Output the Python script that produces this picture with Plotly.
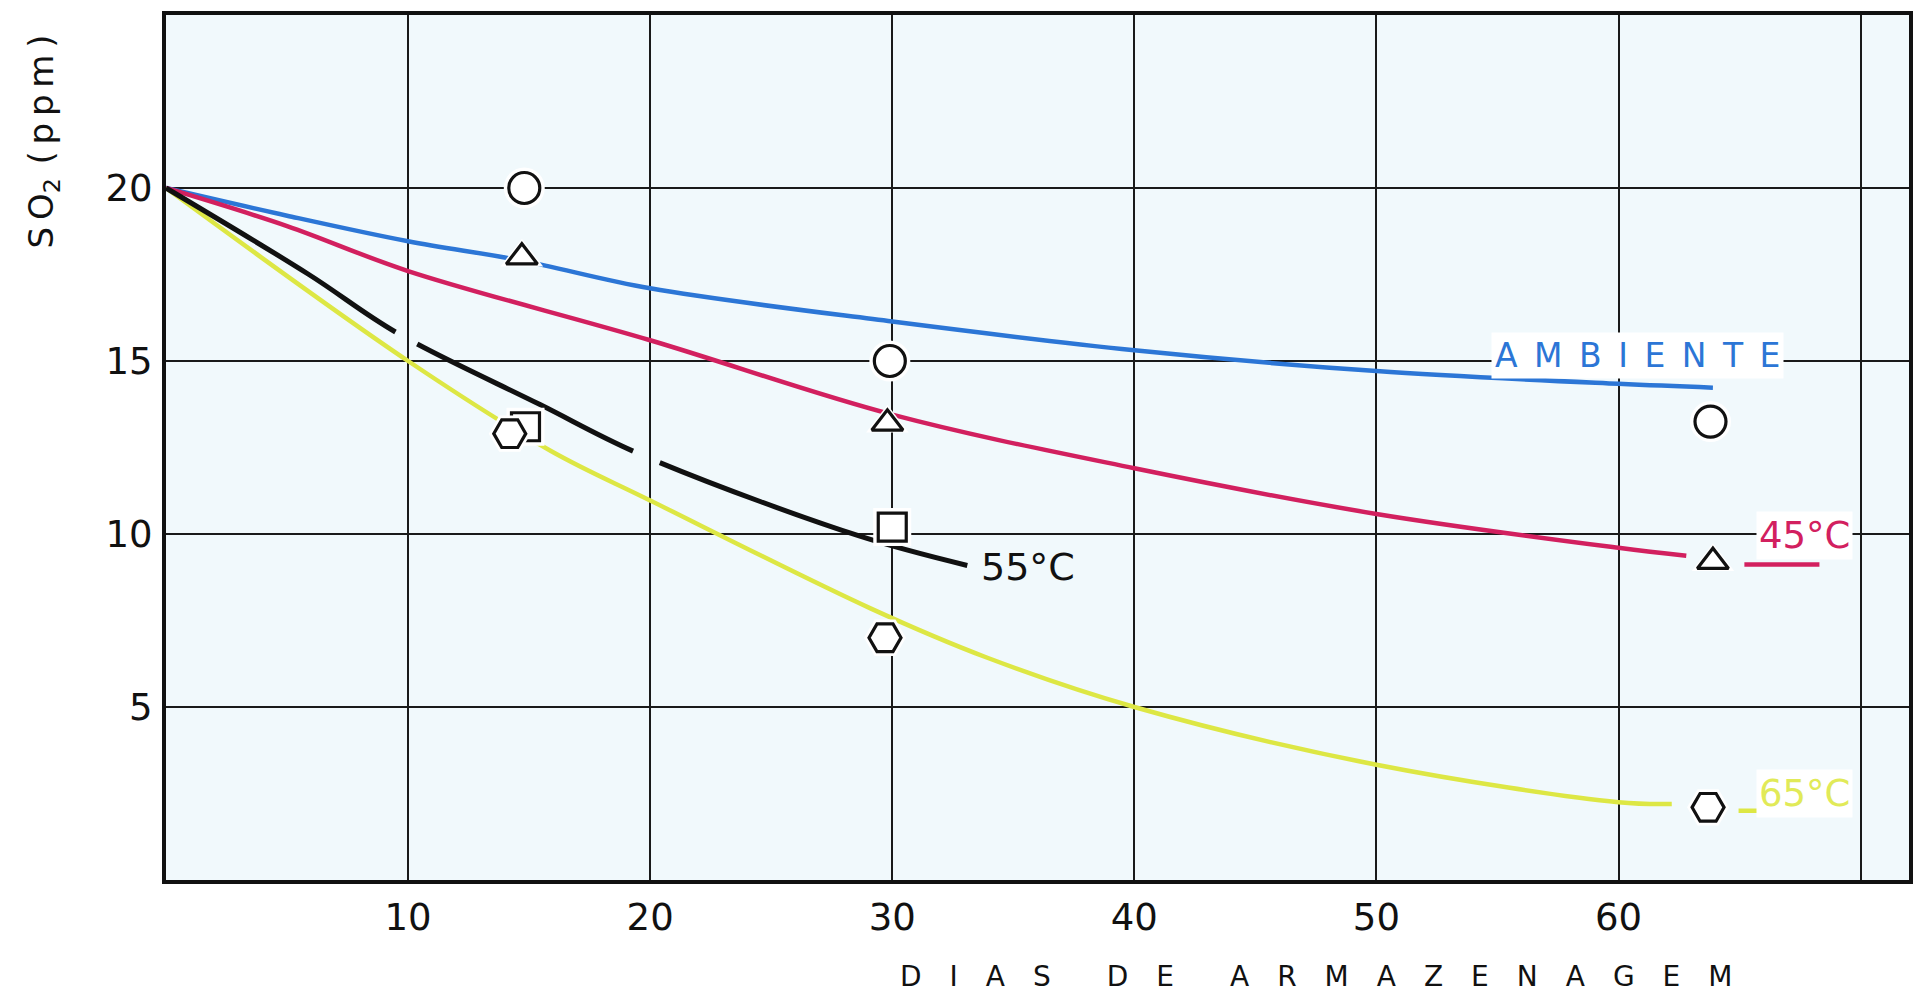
import plotly.graph_objects as go

# ---------------- data ----------------
days_amb = [0, 5, 10, 14.7, 20, 30, 40, 50, 60, 63.9]
so2_amb = [20, 19.2, 18.46, 17.9, 17.1, 16.14, 15.31, 14.71, 14.34, 14.23]

days_45 = [0, 5, 10, 20, 30, 40, 50, 60, 62.8]
so2_45 = [20, 18.9, 17.6, 15.6, 13.45, 11.9, 10.58, 9.6, 9.37]
days_45_key = [65.2, 68.3]
so2_45_key = [9.12, 9.12]

days_55 = [0, 5.9, 9.5, 15.45, 19.6, 28.6, 33.1]
so2_55 = [20, 17.5, 15.83, 13.74, 12.3, 9.95, 9.09]

days_65 = [0, 10, 15.9, 20, 29.1, 33.9, 40, 50, 60, 62.2]
so2_65 = [20, 15.0, 12.4, 10.97, 7.85, 6.43, 5.0, 3.33, 2.25, 2.2]
days_65_key = [64.96, 67.5]
so2_65_key = [2.0, 2.0]

# measured points (markers)
pts_amb_x = [14.8, 29.9, 63.8]
pts_amb_y = [20.0, 15.0, 13.25]
pts_45_x = [14.7, 29.8, 63.9]
pts_45_y = [18.0, 13.2, 9.2]
pts_55_x = [14.85, 30.0]
pts_55_y = [13.1, 10.2]
pts_65_x = [14.2, 29.7, 63.7]
pts_65_y = [12.9, 7.0, 2.1]

x_ticks = [10, 20, 30, 40, 50, 60]
x_ticktext = ["10", "20", "30", "40", "50", "60"]
x_extra_grid = [70]
y_ticks = [5, 10, 15, 20]
y_ticktext = ["5", "10", "15", "20"]

label_amb = "AMBIENTE"
label_45 = "45°C"
label_55 = "55°C"
label_65 = "65°C"
x_title = ["DIAS", "DE", "ARMAZENAGEM"]

# ---------------- styles ----------------
C_BLUE = "#2c76d6"
C_RED = "#d2205f"
C_BLACK = "#111111"
C_YEL = "#dde744"
C_YEL_TXT = "#e1ea58"
FONT = "DejaVu Sans"

fig = go.Figure()

def curve(x, y, color, width, dash="solid"):
    fig.add_trace(go.Scatter(x=x, y=y, mode="lines", hoverinfo="skip",
                             line=dict(color=color, width=width, dash=dash,
                                       shape="spline", smoothing=1.0)))

curve(days_amb, so2_amb, C_BLUE, 4.5)
curve(days_45, so2_45, C_RED, 4.5)
curve(days_45_key, so2_45_key, C_RED, 4.5)
curve(days_65, so2_65, C_YEL, 4.5)
curve(days_65_key, so2_65_key, C_YEL, 4.5)
curve(days_55, so2_55, C_BLACK, 5, dash="271px,25px,241px,29px,700px")

def markers(x, y, symbol, size):
    # white halo
    fig.add_trace(go.Scatter(x=x, y=y, mode="markers", hoverinfo="skip",
                             marker=dict(symbol=symbol, size=size + 10, color="white",
                                         line=dict(width=0))))
    fig.add_trace(go.Scatter(x=x, y=y, mode="markers", hoverinfo="skip",
                             marker=dict(symbol=symbol, size=size, color="white",
                                         line=dict(width=3.2, color=C_BLACK))))

markers(pts_amb_x, pts_amb_y, "circle", 31)
markers(pts_45_x, pts_45_y, "triangle-up", 27)
markers(pts_55_x, pts_55_y, "square", 28)
markers(pts_65_x, pts_65_y, "hexagon2", 32)

# ---------------- labels ----------------
def spaced(word, sep):
    return sep.join(list(word))

fig.add_annotation(x=60.8, y=15.15, text=spaced(label_amb, "\u2002"), showarrow=False,
                   font=dict(family=FONT, size=33, color=C_BLUE),
                   bgcolor="white", borderpad=3)
fig.add_annotation(x=33.6, y=9.05, text=label_55, showarrow=False, xanchor="left",
                   font=dict(family=FONT, size=38, color=C_BLACK))
fig.add_annotation(x=67.7, y=9.95, text=label_45, showarrow=False,
                   font=dict(family=FONT, size=37, color=C_RED),
                   bgcolor="white", borderpad=2)
fig.add_annotation(x=67.7, y=2.5, text=label_65, showarrow=False,
                   font=dict(family=FONT, size=37, color=C_YEL_TXT),
                   bgcolor="white", borderpad=2)

# axis titles
fig.add_annotation(xref="paper", yref="paper", x=0.66, y=-0.112,
                   xanchor="center", yanchor="middle",
                   text=("\u2003\u2003").join(spaced(w, "\u2003") for w in x_title),
                   showarrow=False, font=dict(family=FONT, size=28, color=C_BLACK))
fig.add_annotation(xref="paper", yref="paper", x=-0.0705, y=0.854,
                   xanchor="center", yanchor="middle", textangle=-90,
                   text="S\u2009O<sub>2</sub>\u2009\u2009(\u2009p\u2009p\u2009m\u2009)",
                   showarrow=False,
                   font=dict(family=FONT, size=34, color=C_BLACK))

axis_common = dict(showline=True, linewidth=4, linecolor=C_BLACK, mirror=True,
                   showgrid=True, gridcolor="#1a1a1a", gridwidth=2,
                   zeroline=False, ticks="", fixedrange=True,
                   tickfont=dict(family=FONT, size=37, color=C_BLACK))

fig.update_xaxes(range=[0, 72], tickvals=x_ticks, ticktext=x_ticktext,
                 ticklabelstandoff=2,
                 minor=dict(tickvals=x_extra_grid, showgrid=True,
                            gridcolor="#1a1a1a", gridwidth=2, ticks=""),
                 **axis_common)
fig.update_yaxes(range=[0, 25], tickvals=y_ticks, ticktext=y_ticktext,
                 ticklabelstandoff=2, **axis_common)

fig.update_layout(width=1921, height=997, showlegend=False,
                  margin=dict(l=166, r=8, t=15, b=117),
                  plot_bgcolor="#f1f9fc", paper_bgcolor="white",
                  font=dict(family=FONT, color=C_BLACK))

fig.write_html("out.html", config={"displayModeBar": False},
               post_script="document.body.style.margin='0';document.body.style.overflow='hidden';")
